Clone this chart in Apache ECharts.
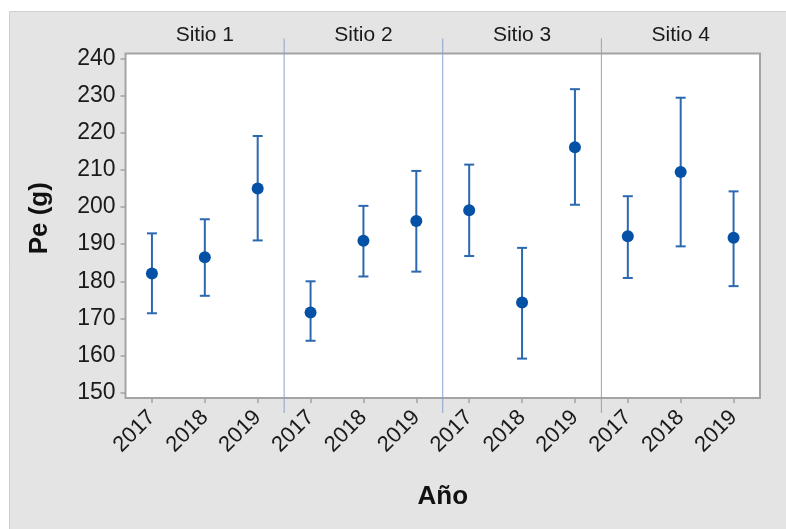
<!DOCTYPE html>
<html>
<head>
<meta charset="utf-8">
<script src="https://cdn.jsdelivr.net/npm/echarts@6/dist/echarts.min.js"></script>
<style>
html,body{margin:0;padding:0;background:#fff;}
#c{width:786px;height:529px;}
</style>
</head>
<body>
<div id="c"></div>
<script>
// ---- data ----
var sites = ['Sitio 1', 'Sitio 2', 'Sitio 3', 'Sitio 4'];
var years = ['2017', '2018', '2019'];
var means = [182.1, 186.5, 205.0, 171.6, 190.9, 196.2, 199.1, 174.3, 216.1, 192.1, 209.4, 191.7];
var upper = [192.9, 196.7, 219.1, 180.0, 200.3, 209.7, 211.4, 189.0, 231.7, 202.9, 229.4, 204.2];
var lower = [171.4, 176.1, 191.0, 164.0, 181.3, 182.6, 186.8, 159.2, 200.6, 180.9, 189.4, 178.7];
var yTicks = [150, 160, 170, 180, 190, 200, 210, 220, 230, 240];

// ---- derived ----
var n = sites.length * years.length;
var idx = [];
for (var i = 0; i < n; i++) idx.push(i);
var pts = idx.map(function (i) { return [i, means[i]]; });
var bars = idx.map(function (i) { return [i, lower[i], upper[i]]; });
var seps = [];
for (var s = 1; s < sites.length; s++) seps.push([s * years.length - 0.5]);
var siteCenters = sites.map(function (_, s) { return s * years.length + (years.length - 1) / 2; });

var FONT = 'Liberation Sans, Arial, sans-serif';
var chart = echarts.init(document.getElementById('c'));
chart.setOption({
  animation: false,
  backgroundColor: '#ffffff',
  graphic: [{
    type: 'rect', z: -10, silent: true,
    shape: { x: 9.5, y: 11.5, width: 790, height: 530 },
    style: { fill: '#e4e4e4', stroke: '#cfcfcf', lineWidth: 1 }
  }],
  grid: {
    left: 125.5, top: 53.5, right: 26, bottom: 131,
    show: true, backgroundColor: '#ffffff', borderColor: '#a3a3a3', borderWidth: 2
  },
  xAxis: [{
    type: 'value', min: -0.5, max: n - 0.5,
    name: 'Año', nameLocation: 'middle', nameGap: 86,
    nameTextStyle: { fontFamily: FONT, fontSize: 26, fontWeight: 'bold', color: '#111' },
    axisLine: { show: false, onZero: false },
    splitLine: { show: false },
    axisTick: { show: true, length: 5, customValues: idx, lineStyle: { color: '#a3a3a3', width: 1.5 } },
    axisLabel: {
      customValues: idx, rotate: 45, margin: 16,
      fontFamily: FONT, fontSize: 22, color: '#1a1a1a',
      formatter: function (v) { return years[Math.round(v) % years.length]; }
    }
  }, {
    type: 'value', position: 'top', min: -0.5, max: n - 0.5,
    axisLine: { show: false, onZero: false }, axisTick: { show: false }, splitLine: { show: false },
    axisLabel: {
      customValues: siteCenters, margin: 8,
      fontFamily: FONT, fontSize: 21, color: '#1a1a1a',
      formatter: function (v) { return sites[Math.round((v - (years.length - 1) / 2) / years.length)]; }
    }
  }],
  yAxis: {
    type: 'value', min: 148.6, max: 241.3,
    name: 'Pe (g)', nameLocation: 'middle', nameGap: 73, nameRotate: 90,
    nameTextStyle: { fontFamily: FONT, fontSize: 26, fontWeight: 'bold', color: '#111', padding: [0, 0, 0, 15] },
    axisLine: { show: false, onZero: false },
    splitLine: { show: false },
    axisTick: { show: true, length: 5, customValues: yTicks, lineStyle: { color: '#a3a3a3', width: 1.5 } },
    axisLabel: { customValues: yTicks, margin: 10, fontFamily: FONT, fontSize: 23, color: '#1a1a1a' }
  },
  series: [{
    type: 'custom', name: 'sep', clip: false, silent: true, z: 1,
    data: seps,
    renderItem: function (params, api) {
      var p = api.coord([api.value(0), 150]);
      var top = params.coordSys.y, bot = params.coordSys.y + params.coordSys.height;
      return {
        type: 'line',
        shape: { x1: p[0], y1: top - 15, x2: p[0], y2: bot + 15 },
        style: { stroke: '#8aa2cf', lineWidth: 1 }
      };
    }
  }, {
    type: 'custom', name: 'err', z: 2,
    data: bars,
    renderItem: function (params, api) {
      var lo = api.coord([api.value(0), api.value(1)]);
      var hi = api.coord([api.value(0), api.value(2)]);
      var w = 5;
      var st = { stroke: '#2c68b0', lineWidth: 2 };
      return {
        type: 'group',
        children: [
          { type: 'line', shape: { x1: lo[0], y1: lo[1], x2: hi[0], y2: hi[1] }, style: st },
          { type: 'line', shape: { x1: hi[0] - w, y1: hi[1], x2: hi[0] + w, y2: hi[1] }, style: st },
          { type: 'line', shape: { x1: lo[0] - w, y1: lo[1], x2: lo[0] + w, y2: lo[1] }, style: st }
        ]
      };
    }
  }, {
    type: 'scatter', z: 3,
    symbol: 'circle', symbolSize: 12,
    itemStyle: { color: '#0451a5', opacity: 1 },
    data: pts
  }]
});
</script>
</body>
</html>
